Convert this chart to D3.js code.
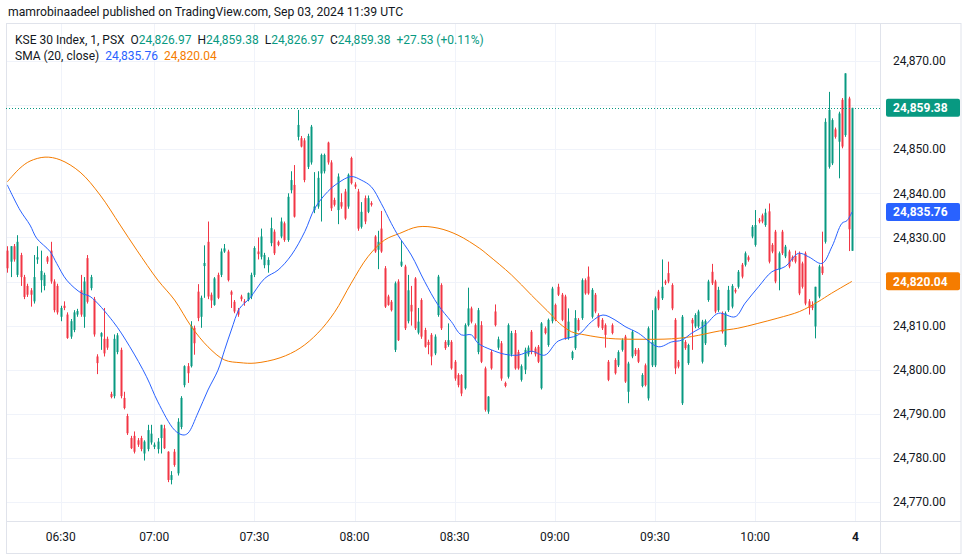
<!DOCTYPE html>
<html>
<head>
<meta charset="utf-8">
<script src="https://cdn.jsdelivr.net/npm/d3@7"></script>
<style>
  body { margin: 0; background: #fff; }
  svg { display: block; font-family: "Trebuchet MS", Roboto, "Noto Sans", sans-serif; }
</style>
</head>
<body>
<div id="chart"></div>
<script>
// 1 minute candles, KSE 30 Index, Sep 03 2024
var opens = [
  24827,24824.5,24828,24821.5,24826,24821,24819,24818,24815.5,24825,
  24820.3,24819,24825.5,24827,24820,24819,24812,24814.5,24812.5,24807.5,
  24809,24812.5,24818,24812,24825.3,24818.5,24816,24803,24807.5,24807,
  24807,24794.5,24794,24804,24804.5,24793.6,24789.5,24784.5,24785,24784,
  24784.5,24781,24782,24783.5,24782.5,24782,24784.5,24786.7,24781.4,24775,
  24781.4,24776.5,24787,24796.5,24800.8,24800.8,24809.5,24817.7,24812,24823.5,
  24829,24817,24814.7,24821.5,24821.5,24826.8,24826.8,24817.7,24815.4,24813.5,
  24816.6,24815.5,24815.8,24816.6,24821.5,24826.8,24825.6,24823.7,24823.7,24828.7,
  24831.3,24829,24830.2,24833.2,24829.4,24840.7,24841.9,24852.8,24852.5,24852,
  24846,24847,24836.2,24837,24844.5,24845,24851.5,24847,24838.5,24836.2,
  24838,24840.4,24837,24848,24842,24840.4,24832.4,24838.9,24835.8,24837.8,
  24830.2,24827.2,24832,24823,24816.6,24815.4,24804.5,24820,24823.6,24823.4,
  24811,24814.7,24820.7,24808.4,24815.8,24809,24806.3,24807.9,24803.7,24812.4,
  24819.2,24806.3,24805.6,24806.3,24801.8,24798.8,24798.8,24795.8,24810.1,24813.9,
  24810.1,24804,24810.1,24800.3,24790.5,24804,24813.2,24805,24806,24797,
  24798.4,24803.5,24808.3,24804,24797.7,24800,24803.5,24808.6,24804.8,24805.2,
  24795.8,24809.4,24805.6,24811,24814.7,24818.8,24817,24816.6,24807.1,24802.6,
  24804.9,24811.3,24811.7,24820.3,24821.1,24812,24817,24812.4,24811.3,24810.1,
  24801.8,24810.1,24802.2,24801,24804.5,24807.5,24795,24803,24804.5,24804.5,
  24796.3,24801,24793.5,24801,24801,24817.7,24816.2,24820,24821.9,24819.2,
  24811.3,24801.8,24792.4,24806.3,24801.5,24811.3,24809.8,24809.8,24801.8,24806,
  24815.8,24822.2,24820,24813.5,24812.8,24805.6,24813.5,24814.3,24818.1,24818.8,
  24823.8,24823.8,24825.5,24830.2,24828.3,24834,24835,24832.8,24835.9,24828.3,
  24831.3,24822.7,24831.3,24825.7,24826.8,24825.5,24825.8,24826.4,24824.1,24826.4,
  24815.5,24814.7,24809.8,24816.6,24823.4,24829,24846,24846.8,24854.5,24851.7,
  24861.2,24853.2,24861.5,24826.97
];
var highs = [
  24828,24828,24828.5,24830.5,24826.5,24821.5,24819.5,24818.5,24826,24828,
  24827,24822,24825.8,24829,24820.5,24819.5,24814.5,24815.5,24813,24811.5,
  24813.5,24813.8,24821.5,24821,24826,24821.5,24816.5,24803.5,24808.5,24814,
  24807.5,24795,24808,24808.3,24805,24795,24790,24785,24786,24784.5,
  24785,24784,24787.5,24787.5,24783.5,24784.5,24787.5,24787.5,24781.5,24777,
  24782,24789,24794,24801,24801.5,24811,24810,24819.4,24816.8,24828.2,
  24833.6,24817.5,24821,24822,24827.5,24828.5,24827.2,24818,24815.8,24814,
  24817,24816,24817.5,24822,24828,24830,24832,24826.5,24825.5,24834.5,
  24831.8,24829.3,24834.5,24833.6,24840,24845,24846.4,24858.9,24853,24852.5,
  24853.5,24855.5,24844.8,24845,24849,24849,24851.7,24847.5,24839,24844.5,
  24840,24841,24844.5,24848.3,24842.5,24841,24838,24839.5,24839.5,24838.2,
  24830.5,24831.5,24836,24823.5,24817,24815.8,24820,24820.5,24829.4,24823.8,
  24821.5,24819,24821,24814,24816.2,24809.5,24806.8,24808.3,24808,24821.5,
  24819.6,24806.7,24810.5,24806.7,24802.2,24799.2,24799,24810.5,24818.6,24814.3,
  24810.5,24814,24811,24800.7,24794,24804.5,24814.8,24807.5,24806.5,24797.3,
  24810.5,24808.8,24809,24804.5,24801.2,24805,24805.5,24809,24805.2,24805.6,
  24810.8,24809.8,24811.6,24818.8,24815,24819.5,24817.4,24817,24813.9,24804.3,
  24813.5,24811.7,24820.7,24820.7,24823.4,24818.5,24817.4,24812.8,24811.7,24810.5,
  24802.2,24810.5,24802.6,24804.4,24807.1,24807.9,24801.8,24809,24804.9,24804.9,
  24799.2,24801.4,24809.8,24813.5,24816.6,24818.1,24825,24820.4,24824.5,24819.6,
  24811.7,24802.2,24812.4,24806.7,24805.9,24811.7,24812.8,24813.6,24811.3,24811.4,
  24820.4,24824,24820.4,24818.8,24813.2,24813.2,24819,24819.4,24818.5,24822.6,
  24824.2,24826.8,24825.9,24832.8,24836.2,24834.4,24835.4,24836.5,24837.7,24828.7,
  24831.7,24826.8,24831.7,24828.3,24827.2,24825.9,24827,24826.8,24824.5,24826.8,
  24816,24815.5,24818.8,24823.8,24831.3,24857,24863,24857,24854.9,24858.5,
  24861.6,24867.2,24861.9,24859.38
];
var lows = [
  24822,24821,24824.5,24821,24819,24816,24816.5,24814.3,24815,24824,
  24817.5,24818,24824,24819.5,24813,24812.5,24811,24813.5,24807,24807,
  24808.5,24812,24812,24809.5,24815,24818,24807.5,24799,24804.5,24803,
  24804.5,24793.5,24793.5,24803.5,24793.5,24791,24785.2,24782,24781,24782.5,
  24781.5,24779.4,24781.5,24783,24782,24781,24781,24782,24774.5,24774,
  24778,24776,24786.5,24796,24797,24800.5,24803.4,24811,24809.5,24816.3,
  24816,24814,24814.5,24816,24821,24826.5,24820,24814,24812.8,24812,
  24815.5,24814.5,24815.5,24816,24821,24825,24825,24823,24822,24828,
  24826,24828,24829.8,24829,24829,24840,24834.5,24852,24850.4,24842.5,
  24845.5,24846.5,24835.5,24836.5,24833.6,24844.5,24846.5,24836,24837,24833,
  24836.5,24834,24836.5,24842,24841,24831.5,24832,24833,24835.5,24837,
  24826.5,24822.8,24826.5,24814,24814.5,24813.2,24804,24806.5,24823.3,24809,
  24810.5,24810,24809,24808,24807,24805,24803.5,24801,24803.3,24812,
  24809,24804.5,24805.2,24800,24797.5,24796,24794,24795.5,24809.8,24810.5,
  24806.8,24803.5,24801.5,24790.5,24790,24800,24809.8,24804.5,24797.5,24796,
  24798,24803,24800,24800,24797.3,24799,24803,24803.5,24803,24801.5,
  24795.5,24808,24805.2,24810.5,24811,24816.7,24811,24806.8,24806.8,24802.2,
  24804.5,24808.7,24811.3,24817,24817,24811.6,24812.8,24809.5,24809,24805,
  24797.4,24808,24798.9,24800.6,24804.1,24797,24792.4,24802.6,24803.1,24801.5,
  24796,24796.2,24793,24800.6,24800.6,24813.5,24815.8,24819.2,24819.6,24813.5,
  24799,24800.3,24792,24804.5,24801.1,24804.5,24809.4,24809.4,24801.4,24805.6,
  24815.4,24819.2,24812.8,24813.1,24808.2,24805.2,24813.1,24813.9,24817.3,24818.4,
  24820.7,24823.4,24824.5,24829.8,24827.9,24833.2,24833.2,24832.4,24824.1,24826.4,
  24819.6,24818,24826,24825.3,24823,24824.5,24824.1,24816.9,24818.4,24814.6,
  24812.5,24813.5,24807.1,24816.2,24821.5,24828.6,24845.6,24846.4,24852.4,24843.4,
  24850.2,24852.8,24826.9,24826.97
];
var closes = [
  24823,24828,24825,24829,24821,24816.5,24817,24817,24821,24825.5,
  24822.4,24821.5,24824.5,24820,24813.5,24813,24814,24814,24807.2,24811,
  24813,24813.3,24812.5,24820,24815.4,24821,24808,24801.5,24808.3,24803.7,
  24805,24793.8,24807,24807.8,24794,24791.3,24785.6,24782.2,24781.4,24783,
  24782,24783.7,24786.3,24785.5,24783,24783.7,24787.5,24782.2,24775,24776.1,
  24778.4,24788.2,24793.6,24800.8,24799.2,24809.9,24806,24811.7,24816.3,24824.2,
  24816.6,24815.7,24820.7,24816.3,24826.8,24827.5,24820.3,24817,24813.2,24812.5,
  24816,24815.2,24817.4,24821.5,24827.6,24826.2,24830.2,24826,24824.9,24832.1,
  24826.4,24828.3,24833.6,24829.4,24839.2,24843,24834.7,24855.5,24850.6,24843,
  24853,24855.1,24837,24843.5,24848.7,24848.7,24847,24836.6,24837.4,24843.8,
  24837,24834.3,24844.2,24842.3,24841.5,24832,24835.8,24833.6,24838.9,24837.4,
  24826.8,24829,24826.8,24814.3,24814.7,24813.5,24819.6,24806.7,24824.5,24809.4,
  24818,24813.2,24809.4,24810.9,24807.5,24805.2,24805.6,24803,24807.5,24821.1,
  24809.4,24804.9,24806.7,24800.3,24798,24796.5,24794.6,24810.1,24813.9,24810.9,
  24807.1,24813.5,24801.8,24790.9,24793.9,24800.3,24810.1,24806.9,24798,24796.3,
  24810.1,24808.3,24800.3,24800.3,24800.8,24804.5,24805,24804,24803.5,24801.8,
  24810.5,24808.3,24811.3,24818.4,24811.3,24817,24811.3,24807.1,24810.9,24804,
  24811.7,24809,24820.3,24817.3,24817.3,24818.1,24813.2,24809.8,24809.4,24807.9,
  24797.7,24808.3,24799.2,24804,24806.7,24797.3,24801.4,24808.6,24803.5,24801.8,
  24798.8,24796.5,24809.4,24806.3,24816.2,24813.9,24818.8,24819.6,24820,24813.9,
  24800.3,24800.7,24812,24804.9,24805.6,24810.5,24812.4,24813.2,24810.9,24811,
  24820,24819.6,24813.2,24818.1,24808.6,24812.8,24818.1,24819,24817.7,24822.2,
  24821.1,24826.4,24824.9,24832.4,24832.8,24833.6,24833.6,24835.6,24824.5,24826.8,
  24820,24826.4,24826.4,24827.9,24823.4,24824.9,24824.5,24817.3,24818.8,24815,
  24814,24814,24818.8,24823.4,24821.9,24856.2,24858.9,24856.6,24852.8,24858.1,
  24850.6,24867.2,24831.85,24859.38
];

// SMA lines, sampled along the bars (bar number, value)
var blueBars = [0,3.8,6.8,8.8,12.8,14.8,17.8,22.3,24.8,31.7,36.7,41.7,45.1,50.1,52.6,54.1,57.1,60.1,63.1,65.1,
  67.1,69.6,72.6,77.1,81.1,85.1,89.1,92.1,96,99,103,106,109,112,115,117,121,125,129,133,
  136,139,141,145,149,153,157,161,165,171,175,178.4,182,185,189,195,199,202,205,209,
  213,218,221,225,229,233,237,240,244,247,250,251.5,253];
var blueSma = [24841.9,24836.2,24832.8,24829.8,24826.8,24824.1,24820.3,24817.3,24816.6,24810.9,
  24805.2,24798.4,24792.7,24786.3,24785.2,24785.6,24790.2,24795.4,24799.9,24804.5,
  24809,24813.9,24816.2,24820.7,24822.6,24826,24831.3,24836.6,24840.4,24842.3,
  24843.8,24843,24841.5,24837.7,24833.2,24830.5,24826,24820,24814.7,24810.9,
  24807.9,24807.9,24806,24804.5,24803.5,24803.3,24804.2,24803.3,24806.5,24807.9,
  24810.9,24812.4,24811.3,24809.8,24808.3,24805.2,24806.3,24806.7,24808.3,24810.1,
  24812.8,24812,24815.1,24818.8,24822.2,24823.4,24826.4,24825.6,24824.1,24827.9,
  24833.2,24833.8,24835.76];

var orangeBars = [0,3.8,6.8,11.3,15.8,21.8,27.8,33.8,38.8,45.1,50.1,55.1,60.1,65.1,69.7,74.2,81.7,87.7,93,98,
  103,108,113,117.5,123,129,135,141.5,144,151,157,163,165.4,169,173,180,189.5,198.9,204.9,213.4,
  218.8,224.8,230.8,237.3,242.8,246.8,253];
var orangeSma = [24842.6,24845.7,24847.3,24848.2,24847.6,24844.8,24839.6,24832.8,24827.1,24820.3,
  24815.8,24809.8,24805.2,24802.2,24801.6,24801.5,24802.7,24804.9,24808.3,24813,
  24819.6,24825.6,24829.4,24830.9,24832.4,24832.1,24830.5,24827.5,24826,24821.5,
  24816.9,24812.4,24810.5,24808.6,24807.9,24807.1,24806.9,24807,24807.5,24808.8,
  24809.4,24810.5,24811.7,24813.2,24815.4,24817.3,24820.04];

var priceTicks = [24770,24780,24790,24800,24810,24820,24830,24840,24850,24860,24870];
var timeLabels = ["06:30","07:00","07:30","08:00","08:30","09:00","09:30","10:00","4"];
var timeBars = [16,44,74,104,134,164,194,224,254];

var lastPrice = 24859.38;

var W = 962, H = 559;
var paneLeft = 6, paneTop = 23, paneRight = 880, paneBottom = 521;

var up = "#089981", down = "#f23645", blue = "#2962ff", orange = "#f57c00";
var textColor = "#131722", grid = "#f0f3fa", border = "#e0e3eb";

var svg = d3.select("#chart").append("svg")
  .attr("width", W)
  .attr("height", H);

var x = d3.scaleLinear().domain([0, opens.length - 1]).range([7.3, 852]);
var y = d3.scaleLinear().domain([24770, 24870]).range([502, 61]);

// grid
svg.append("g").selectAll("line.h")
  .data(priceTicks).enter().append("line")
  .attr("x1", paneLeft).attr("x2", paneRight)
  .attr("y1", d => Math.round(y(d)) + 0.5).attr("y2", d => Math.round(y(d)) + 0.5)
  .attr("stroke", grid);

svg.append("g").selectAll("line.v")
  .data(timeBars).enter().append("line")
  .attr("x1", d => Math.round(x(d)) + 0.5).attr("x2", d => Math.round(x(d)) + 0.5)
  .attr("y1", paneTop).attr("y2", paneBottom)
  .attr("stroke", grid);

// pane frame
svg.append("rect")
  .attr("x", paneLeft + 0.5).attr("y", paneTop + 0.5)
  .attr("width", W - paneLeft - 1.5).attr("height", H - paneTop - 6)
  .attr("fill", "none").attr("stroke", border);
svg.append("line")
  .attr("x1", paneRight + 0.5).attr("x2", paneRight + 0.5)
  .attr("y1", paneTop).attr("y2", H - 6)
  .attr("stroke", border);
svg.append("line")
  .attr("x1", paneLeft).attr("x2", W - 1)
  .attr("y1", paneBottom + 0.5).attr("y2", paneBottom + 0.5)
  .attr("stroke", border);

// candles
var candles = svg.append("g").selectAll("g")
  .data(opens.map((o, i) => ({o: o, h: highs[i], l: lows[i], c: closes[i], i: i})))
  .enter().append("g");

candles.append("line")
  .attr("x1", d => Math.round(x(d.i)) + 0.5).attr("x2", d => Math.round(x(d.i)) + 0.5)
  .attr("y1", d => y(d.h)).attr("y2", d => y(d.l))
  .attr("stroke", d => d.c >= d.o ? up : down)
  .attr("stroke-width", 1);

candles.append("rect")
  .attr("x", d => Math.round(x(d.i)) - 0.5)
  .attr("width", 2)
  .attr("y", d => y(Math.max(d.o, d.c)))
  .attr("height", d => Math.max(1, Math.abs(y(d.o) - y(d.c))))
  .attr("fill", d => d.c >= d.o ? up : down);

// SMA lines
var smaLine = d3.line().curve(d3.curveCatmullRom)
  .x(d => x(d[0])).y(d => y(d[1]));

svg.append("path")
  .datum(orangeBars.map((b, i) => [b, orangeSma[i]]))
  .attr("d", smaLine)
  .attr("fill", "none").attr("stroke", orange).attr("stroke-width", 1);

svg.append("path")
  .datum(blueBars.map((b, i) => [b, blueSma[i]]))
  .attr("d", smaLine)
  .attr("fill", "none").attr("stroke", blue).attr("stroke-width", 1);

// last price line
svg.append("line")
  .attr("x1", paneLeft).attr("x2", paneRight)
  .attr("y1", Math.round(y(lastPrice)) + 0.5).attr("y2", Math.round(y(lastPrice)) + 0.5)
  .attr("stroke", up).attr("stroke-dasharray", "1,2");

// price labels on the axis
var fmt = d3.format(",.2f");
var tags = [
  {v: lastPrice, c: up},
  {v: blueSma[blueSma.length - 1], c: blue},
  {v: orangeSma[orangeSma.length - 1], c: orange}
];

// price axis, ticks hidden under a tag are skipped
svg.append("g").selectAll("text")
  .data(priceTicks.filter(t => tags.every(g => Math.abs(y(g.v) - y(t)) > 14)))
  .enter().append("text")
  .attr("x", 893).attr("y", d => y(d))
  .attr("dy", "0.35em")
  .attr("font-size", 12)
  .attr("fill", textColor)
  .text(d => fmt(d));

var tag = svg.append("g").selectAll("g").data(tags).enter().append("g");
tag.append("rect")
  .attr("x", 886).attr("width", 74)
  .attr("y", d => y(d.v) - 9).attr("height", 18)
  .attr("rx", 2)
  .attr("fill", d => d.c);
tag.append("text")
  .attr("x", 893).attr("y", d => y(d.v))
  .attr("dy", "0.35em")
  .attr("font-size", 12)
  .attr("font-weight", "bold")
  .attr("fill", "#fff")
  .text(d => fmt(d.v));

// time axis
svg.append("g").selectAll("text")
  .data(timeLabels).enter().append("text")
  .attr("x", (d, i) => x(timeBars[i]))
  .attr("y", 537)
  .attr("dy", "0.35em")
  .attr("text-anchor", "middle")
  .attr("font-size", 12)
  .attr("font-weight", d => d === "4" ? "bold" : "normal")
  .attr("fill", textColor)
  .text(d => d);

// header
svg.append("text")
  .attr("x", 8).attr("y", 12).attr("dy", "0.35em")
  .attr("font-size", 12.2)
  .attr("fill", textColor)
  .text("mamrobinaadeel published on TradingView.com, Sep 03, 2024 11:39 UTC");

// legend
var o = opens[opens.length - 1], c = closes[closes.length - 1];
var prevClose = closes[closes.length - 2];
var chg = c - prevClose;
var leg1 = svg.append("text")
  .attr("x", 15).attr("y", 40).attr("dy", "0.35em")
  .attr("font-size", 12).attr("fill", textColor);
leg1.append("tspan").text("KSE 30 Index, 1, PSX");
[["O", o], ["H", highs[highs.length - 1]], ["L", lows[lows.length - 1]], ["C", c]].forEach(function(p) {
  leg1.append("tspan").attr("dx", 6).text(p[0]);
  leg1.append("tspan").attr("fill", up).text(fmt(p[1]));
});
leg1.append("tspan").attr("dx", 6).attr("fill", up)
  .text("+" + fmt(chg) + " (+" + (chg / prevClose * 100).toFixed(2) + "%)");

var leg2 = svg.append("text")
  .attr("x", 15).attr("y", 56).attr("dy", "0.35em")
  .attr("font-size", 12).attr("fill", textColor);
leg2.append("tspan").text("SMA (20, close)");
leg2.append("tspan").attr("dx", 6).attr("fill", blue).text(fmt(blueSma[blueSma.length - 1]));
leg2.append("tspan").attr("dx", 6).attr("fill", orange).text(fmt(orangeSma[orangeSma.length - 1]));
</script>
</body>
</html>
